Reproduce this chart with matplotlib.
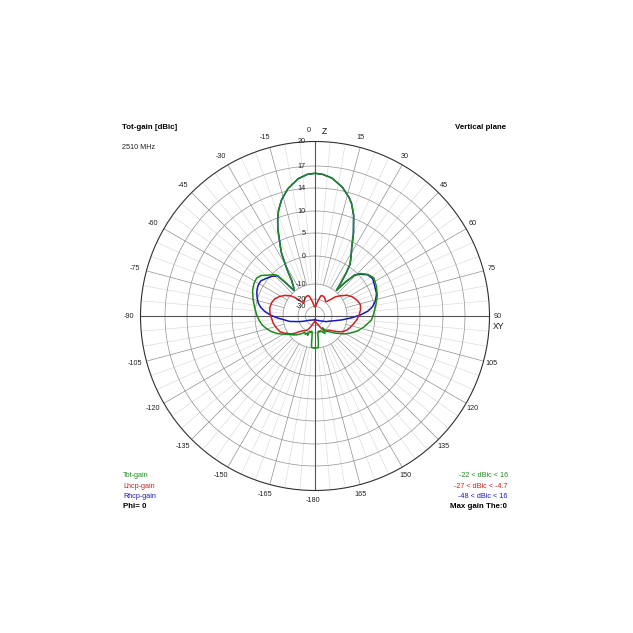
# -*- coding:utf-8 -*-
import numpy as np
import matplotlib.pyplot as plt
from matplotlib.transforms import offset_copy

plt.rcParams['font.family'] = ['Liberation Sans', 'DejaVu Sans']

# dB levels of the grid rings and their radius in pixels on the chart
ring_db = [-30, -20, -10, 0, 5, 10, 14, 17, 20]
ring_px = [9.5, 17, 32, 60, 83, 105, 128, 150, 174.5]
ring_labels = ['-30', '-20', '-10', '0', '5', '10', '14', '17', '20']

# Tot-gain (green)
tot_theta = [-180, -176, -174, -173, -172, -170, -168, -165, -162, -159, -156, -152,
             -148, -144, -140, -135, -130, -125, -120, -115, -110, -105, -100, -95,
             -89, -82, -75, -68, -62, -57, -53, -49, -45, -43, -41.5, -39.5, -37,
             -35, -33, -31.5, -30, -28, -26, -23, -21, -19, -16, -12, -7, -3, 0,
             3, 7, 12, 16, 18, 21, 25, 28, 31, 34, 36, 38, 40, 42, 44, 47, 52, 57,
             64, 72, 81, 88, 94, 103, 110, 116, 121, 126, 130, 135, 140, 144, 147,
             150, 155, 160, 164, 168, 171, 172.5, 174, 176, 180]
tot_db = [-10.0, -10.0, -10.2, -12.0, -17.0, -20.5, -22.0, -20.0, -21.5, -17.5, -19.0, -17.5,
          -18.5, -17.0, -15.5, -13.5, -11.8, -10.0, -8.4, -6.6, -5.0, -3.6, -2.4, -1.5,
          -0.6, 0.2, 0.9, 1.6, 2.0, 2.1, 1.6, 0.5, -0.5, -1.5, -5.5, -9.6, -8.8,
          -7.6, -6.0, -3.0, -0.3, 2.5, 4.3, 7.8, 9.8, 11.2, 12.8, 14.3, 15.4, 15.9, 16.0,
          15.9, 15.5, 14.5, 13.2, 12.3, 10.5, 6.8, 4.0, 2.2, 0.6, -2.5, -6.5, -9.5, -5.0,
          -1.0, 0.5, 1.6, 2.2, 1.8, 1.2, 0.3, -0.5, -1.2, -3.6, -5.5, -7.5, -9.0, -11.5,
          -13.5, -16.0, -18.0, -18.5, -24.0, -18.0, -19.5, -22.0, -20.5, -22.0, -19.0,
          -14.0, -10.2, -10.0, -10.0]

# Lhcp-gain (red)
lhcp_theta = [-180, -170, -162, -157, -152, -148, -144, -140, -136, -132, -128, -124,
              -119, -114, -107, -100, -92, -86, -80, -73, -67, -61, -55, -50, -47, -44,
              -40, -35, -30, -25, -20, -16, -12, -8, -4, 0, 4, 8, 12, 16, 20, 25, 30,
              35, 39, 43, 47, 51, 57, 63, 70, 76, 82, 88, 95, 101, 108, 114, 118, 122,
              126, 130, 135, 140, 145, 150, 155, 162, 170, 180]
lhcp_db = [-40, -36, -30, -26, -21.5, -20, -19, -18.5, -17.0, -14.5, -12.0, -10.3,
           -8.8, -7.7, -7.0, -6.3, -5.8, -5.3, -5.0, -5.2, -5.8, -7.0, -8.6, -10.5, -13.5,
           -18.0, -19.5, -19.0, -18.0, -17.2, -16.9, -17.6, -21, -26, -30, -31, -30, -26,
           -21, -17.4, -16.9, -17.2, -18.0, -19.2, -19.0, -16.5, -12.5, -10.0, -7.8, -6.4,
           -5.3, -4.7, -5.0, -5.6, -6.4, -7.3, -8.2, -9.0, -9.8, -11.5, -13.8, -16.0,
           -18.0, -19.0, -19.5, -21, -26, -31, -36, -40]

# Rhcp-gain (blue), same as Tot-gain inside the main lobe
rhcp_theta = [-180, -176, -165, -150, -140, -130, -122, -116, -111, -107, -102, -97,
              -93, -89, -85, -81, -77, -72, -67, -62, -57, -52, -47, -43, -41.5, -39.5,
              -37, -35, -33, -31.5, -30, -28, -26, -23, -21, -19, -16, -12, -7, -3, 0,
              3, 7, 12, 16, 18, 21, 25, 28, 31, 34, 36, 38, 40, 42, 44, 47, 52, 57, 63,
              70, 76, 81, 85, 89, 93, 98, 103, 110, 116, 125, 135, 145, 155, 165, 176, 180]
rhcp_db = [-47, -44, -44.5, -42.5, -39.5, -36.5, -32, -27, -22, -18.6, -14, -10.5,
           -8.0, -5.6, -3.5, -1.8, -0.6, 0.2, 0.7, 1.0, 1.0, 0.3, -0.6, -1.8, -5.5, -9.6,
           -8.8, -7.6, -6.0, -3.0, -0.3, 2.5, 4.3, 7.8, 9.8, 11.2, 12.8, 14.3, 15.4, 15.9,
           16.0, 15.9, 15.5, 14.5, 13.2, 12.3, 10.5, 6.8, 4.0, 2.2, 0.6, -2.5, -6.5, -9.5,
           -5.0, -1.2, 0.3, 1.5, 1.9, 1.5, 1.2, 0.5, -0.7, -2.6, -5.4, -8.5, -13, -17.5,
           -22.5, -25.5, -31, -36, -39.5, -42, -44, -44, -47]

angle_ticks = list(range(-165, 181, 15))


def fwd(d):
    d = np.asarray(d, dtype=float)
    lo = 9.5 * np.exp(0.058 * (np.minimum(d, -30) + 30))
    hi = np.interp(d, ring_db, ring_px)
    return np.where(d < -30, lo, hi)


def inv(r):
    r = np.asarray(r, dtype=float)
    lo = -30 + np.log(np.maximum(r, 1e-12) / 9.5) / 0.058
    hi = np.interp(r, ring_px, ring_db)
    return np.where(r < 9.5, lo, hi)


fig = plt.figure(figsize=(6.33, 6.33), dpi=100)
R = 174.5
cx, cy = 315, 316
ax = fig.add_axes([(cx - R) / 633, (633 - cy - R) / 633, 2 * R / 633, 2 * R / 633],
                  projection='polar')
ax.set_theta_zero_location('N')
ax.set_theta_direction(-1)
ax.set_rscale('function', functions=(fwd, inv))
ax.set_rlim(-150, 20)
ax.grid(False)
ax.set_xticks([])
ax.set_yticks([])
ax.spines['polar'].set_color('#303030')
ax.spines['polar'].set_linewidth(0.8)

# spokes
for a in range(0, 360, 5):
    if a % 15 == 0:
        continue
    ax.plot([np.radians(a)] * 2, [-10, 20], color='#dadada', lw=0.45, zorder=1)
for a in range(0, 360, 15):
    if a % 90 == 0:
        continue
    ax.plot([np.radians(a)] * 2, [-10, 20], color='#909090', lw=0.5, zorder=1.5)
for a in (0, 90, 180, 270):
    ax.plot([np.radians(a)] * 2, [-150, 20], color='#555555', lw=0.8, zorder=2)

# rings
th = np.linspace(0, 2 * np.pi, 721)
for lv in ring_db[:-1]:
    ax.plot(th, [lv] * len(th), color='#909090', lw=0.5, zorder=1.5)

# ring labels
lab_tr = offset_copy(ax.transData, fig=fig, x=-9, y=0, units='dots')
for lv, s in zip(ring_db, ring_labels):
    ax.text(0, lv, s, transform=lab_tr, ha='right', va='center', fontsize=5.2,
            color='#222222', zorder=6)

# curves
ax.plot(np.radians(rhcp_theta), rhcp_db, color='#1a1ab4', lw=1.1, zorder=3)
ax.plot(np.radians(lhcp_theta), lhcp_db, color='#cc2222', lw=1.1, zorder=3.5)
ax.plot(np.radians(tot_theta), tot_db, color='#1d8a1d', lw=1.1, zorder=4)

# angle labels around the circle
def px(x, y):
    return ((x - (cx - R)) / (2 * R), (cy + R - y) / (2 * R))

for a in angle_ticks:
    if a == 0:
        continue
    t = np.radians(a)
    x = cx - 2 + 184.5 * np.sin(t)
    y = cy - 184.5 * np.cos(t)
    ax.text(*px(x, y), str(a) if a != 180 else '-180', transform=ax.transAxes,
            ha='center', va='center', fontsize=5.2, color='#222222')
ax.text(*px(308.3, 131), '0', transform=ax.transAxes, ha='center', va='center',
        fontsize=5.2, color='#222222')
ax.text(*px(324, 131), 'Z', transform=ax.transAxes, ha='center', va='center',
        fontsize=6.2, color='#111111')
ax.text(*px(499, 326.5), 'XY', transform=ax.transAxes, ha='center', va='center',
        fontsize=6.2, color='#111111')

# corner texts
def ft(x, y, s, ha='left', **kw):
    fig.text(x / 633, 1 - y / 633, s, ha=ha, va='center', **kw)

ft(122.5, 127.5, 'Tot-gain [dBic]', fontsize=5.7, fontweight='bold')
ft(122, 147.7, '2510 MHz', fontsize=5.2, color='#222222')
ft(506.5, 127.5, 'Vertical plane', ha='right', fontsize=5.7, fontweight='bold')

ft(123, 475.7, 'Tot-gain', fontsize=5.2, color='#1d8a1d')
ft(123, 486, 'Lhcp-gain', fontsize=5.2, color='#cc2222')
ft(123, 496.5, 'Rhcp-gain', fontsize=5.2, color='#1a1ab4')
ft(123, 506.7, 'Phi= 0', fontsize=5.7, fontweight='bold')

ft(508, 475.7, '-22 < dBic < 16', ha='right', fontsize=5.2, color='#1d8a1d')
ft(508, 486, '-27 < dBic < -4.7', ha='right', fontsize=5.2, color='#cc2222')
ft(508, 496.5, '-48 < dBic < 16', ha='right', fontsize=5.2, color='#1a1ab4')
ft(506.5, 506.7, 'Max gain The:0', ha='right', fontsize=5.7, fontweight='bold')

plt.savefig('out.png', dpi=100)
